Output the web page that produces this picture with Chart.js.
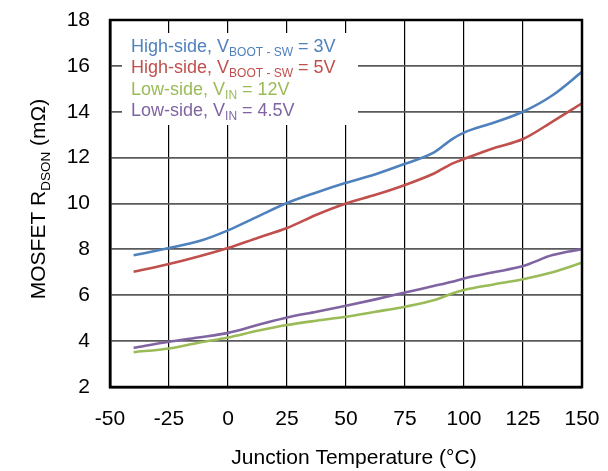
<!DOCTYPE html>
<html>
	<head>
		<meta charset="utf-8">
		<title>MOSFET RDSON vs Junction Temperature</title>
		<script src="https://cdn.jsdelivr.net/npm/chart.js"></script>
		<style>
			body { margin: 0; background: #fff; }
		</style>
	</head>
	<body>
		<canvas id="rdson" width="608" height="471" role="img" aria-label="MOSFET RDSON vs Junction Temperature"></canvas>
		<script type="text/javascript">
			// junction temperature (°C)
			const temps = [-40, -25, -12.5, 0, 12.5, 25, 37.5, 50, 62.5, 75, 87.5, 95, 100, 112.5, 125, 137.5, 150];
			// RDSON (mΩ)
			const hs3V  = [7.74, 8.06, 8.35, 8.83, 9.43, 10.02, 10.48, 10.9, 11.28, 11.73, 12.24, 12.81, 13.09, 13.52, 14.0, 14.72, 15.74];
			const hs5V  = [7.02, 7.36, 7.69, 8.06, 8.50, 8.93, 9.51, 10.0, 10.38, 10.81, 11.32, 11.74, 11.94, 12.41, 12.81, 13.57, 14.37];
			const ls12V = [3.52, 3.68, 3.93, 4.16, 4.45, 4.70, 4.89, 5.06, 5.28, 5.50, 5.79, 6.08, 6.23, 6.47, 6.70, 7.0, 7.42];
			const ls45V = [3.71, 3.97, 4.16, 4.36, 4.70, 5.03, 5.28, 5.54, 5.82, 6.12, 6.41, 6.59, 6.73, 7.0, 7.27, 7.75, 8.01];
			const xTicks = [-50, -25, 0, 25, 50, 75, 100, 125, 150];
			const yTicks = [2, 4, 6, 8, 10, 12, 14, 16, 18];

			const colors = { blue: '#4F81BD', red: '#C0504D', green: '#9BBB59', purple: '#8064A2' };
			const FONT = '"Liberation Sans", Arial, sans-serif';

			// legend rows: [main, subscript, tail]
			const legendRows = [
				['High-side, V', 'BOOT - SW', ' = 3V', colors.blue],
				['High-side, V', 'BOOT - SW', ' = 5V', colors.red],
				['Low-side, V', 'IN', ' = 12V', colors.green],
				['Low-side, V', 'IN', ' = 4.5V', colors.purple]
			];

			function pts(ys) { return temps.map((t, i) => ({ x: t, y: ys[i] })); }
			function line(label, ys, color) {
				return { label: label, data: pts(ys), borderColor: color, backgroundColor: color, borderWidth: 2.6, pointRadius: 0, tension: 0.4, cubicInterpolationMode: 'monotone' };
			}

			// draw text with a subscript part, returns end x
			function subText(ctx, x, y, main, sub, tail, size, subSize, drop) {
				ctx.font = size + 'px ' + FONT;
				ctx.fillText(main, x, y);
				x += ctx.measureText(main).width;
				ctx.font = subSize + 'px ' + FONT;
				ctx.fillText(sub, x, y + drop);
				x += ctx.measureText(sub).width;
				ctx.font = size + 'px ' + FONT;
				ctx.fillText(tail, x, y);
				return x + ctx.measureText(tail).width;
			}

			const decor = {
				id: 'decor',
				beforeDatasetsDraw(chart) {
					const ctx = chart.ctx;
					ctx.save();
					ctx.fillStyle = '#fff';
					ctx.fillRect(122, 33, 236, 92);
					ctx.textBaseline = 'alphabetic';
					ctx.textAlign = 'left';
					legendRows.forEach((r, i) => {
						ctx.fillStyle = r[3];
						subText(ctx, 131, 52 + i * 21.4, r[0], r[1], r[2], 18, 12, 4);
					});
					ctx.restore();
				},
				afterDraw(chart) {
					const ctx = chart.ctx, a = chart.chartArea;
					ctx.save();
					ctx.strokeStyle = '#000';
					ctx.lineWidth = 2.5;
					ctx.strokeRect(a.left, a.top, a.right - a.left, a.bottom - a.top);
					ctx.fillStyle = '#000';
					ctx.textBaseline = 'alphabetic';
					// x title
					ctx.font = '21px ' + FONT;
					ctx.textAlign = 'center';
					ctx.fillText('Junction Temperature (°C)', 354, 464);
					// y title, rotated with subscript
					ctx.translate(45, 199);
					ctx.rotate(-Math.PI / 2);
					ctx.textAlign = 'left';
					ctx.font = '21px ' + FONT;
					let w = ctx.measureText('MOSFET R').width + ctx.measureText(' (mΩ)').width;
					ctx.font = '13.5px ' + FONT;
					w += ctx.measureText('DSON').width;
					subText(ctx, -w / 2, 0, 'MOSFET R', 'DSON', ' (mΩ)', 21, 13.5, 4.5);
					ctx.restore();
				}
			};

			new Chart(document.getElementById('rdson'), {
				type: 'line',
				data: {
					datasets: [
						line('High-side, VBOOT - SW = 3V', hs3V, colors.blue),
						line('High-side, VBOOT - SW = 5V', hs5V, colors.red),
						line('Low-side, VIN = 12V', ls12V, colors.green),
						line('Low-side, VIN = 4.5V', ls45V, colors.purple)
					]
				},
				options: {
					responsive: false,
					animation: false,
					layout: { padding: { top: 20, right: 26, left: 0, bottom: 0 } },
					plugins: { legend: { display: false }, tooltip: { enabled: false } },
					scales: {
						x: {
							type: 'linear', min: -50, max: 150,
							afterBuildTicks: s => { s.ticks = xTicks.map(v => ({ value: v })); },
							afterFit: s => { s.height = 84; s.paddingLeft = 0; s.paddingRight = 0; },
							grid: { color: '#000', lineWidth: 1.2, drawTicks: false },
							border: { display: true, color: '#000', width: 2.5 },
							ticks: { color: '#000', font: { family: FONT, size: 21 }, padding: 20, maxRotation: 0 }
						},
						y: {
							type: 'linear', min: 2, max: 18,
							afterBuildTicks: s => { s.ticks = yTicks.map(v => ({ value: v })); },
							afterFit: s => { s.width = 110; s.paddingTop = 0; s.paddingBottom = 0; },
							grid: { color: '#5a5a5a', lineWidth: 1.8, drawTicks: false },
							border: { display: true, color: '#000', width: 2.5 },
							ticks: { color: '#000', font: { family: FONT, size: 21 }, padding: 20 }
						}
					}
				},
				plugins: [decor]
			});
		</script>
	</body>
</html>
